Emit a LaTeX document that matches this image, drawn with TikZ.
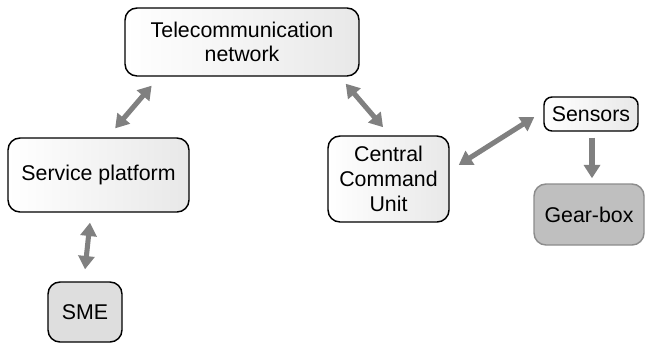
\documentclass[tikz,border=0pt]{standalone}
\usepackage{fontspec}
\setmainfont{Liberation Sans}
\usetikzlibrary{arrows.meta,calc}

\begin{document}
\begin{tikzpicture}[x=0.75pt, y=-0.75pt,
    every node/.style={font=\fontsize{16}{18.5}\selectfont, align=center, inner sep=0pt},
    box/.style={draw=black, line width=1.1pt, rounded corners=9pt, left color=white, right color=black!9},
    smebox/.style={draw=black, line width=1.1pt, rounded corners=9pt, fill=black!13},
    gearbox/.style={draw=black!45, line width=1.1pt, rounded corners=9pt, fill=black!25},
    link/.style={draw=black!50, line width=3.8pt, {Triangle[length=10pt,width=12pt]}-{Triangle[length=10pt,width=12pt]}},
    feed/.style={draw=black!50, line width=3.8pt, -{Triangle[length=10pt,width=12pt]}}]
      \useasboundingbox (0,0) rectangle (645,343);
      \node[box, minimum width=175.5pt, minimum height=51pt] (tele) at (242, 42) {Telecommunication\\network};
      \node[box, minimum width=135.75pt, minimum height=55.5pt] (svc) at (98.5, 175) {Service platform};
      \node[box, minimum width=90.75pt, minimum height=64.5pt] (ccu) at (388.5, 179) {Central\\Command\\Unit};
      \node[box, minimum width=70.5pt, minimum height=25.5pt, rounded corners=6pt] (sens) at (591, 114) {Sensors};
      \node[gearbox, minimum width=82.5pt, minimum height=45.75pt] (gear) at (589, 214.5) {Gear-box};
      \node[smebox, minimum width=55.5pt, minimum height=45pt] (sme) at (85, 312) {SME};
      \draw[link, shorten <=8.8pt, shorten >=8.8pt] ($(svc.north)+(9,0)$) -- ($(tele.south west)+(35,0)$);
      \draw[link, shorten <=6.9pt, shorten >=8pt] ($(tele.south east)+(-20,0)$) -- ($(ccu.north)+(1.5,0)$);
      \draw[link, shorten <=8pt, shorten >=8pt] ($(ccu.east)+(0,-8.4)$) -- ($(sens.west)+(0,-2.6)$);
      \draw[feed, shorten <=4.5pt, shorten >=3.75pt] ([xshift=0.75pt]sens.south) -- ([xshift=0.75pt]sens.south |- gear.north);
      \draw[link, shorten <=7.5pt, shorten >=9pt] ($(svc.south)+(-7.5,0)$) -- ($(sme.north)+(-1.25,0)$);
\end{tikzpicture}
\end{document}
